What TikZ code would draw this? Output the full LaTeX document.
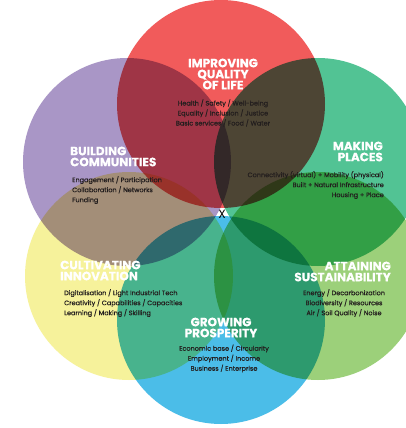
\documentclass[tikz,border=0pt]{standalone}
\usepackage{fontspec}
\setmainfont{Poppins}
\newfontfamily\bodyfont{Poppins}[FakeBold=0.6]
\newfontfamily\ttlfont{Poppins}[BoldFeatures={FakeBold=0.5}]
\definecolor{cred}{RGB}{241,91,91}
\definecolor{cblue}{RGB}{75,189,232}
\definecolor{cpurple}{RGB}{169,150,198}
\definecolor{cgreen}{RGB}{82,195,148}
\definecolor{cyellow}{RGB}{246,242,155}
\definecolor{clgreen}{RGB}{156,208,122}
\definecolor{ctext}{RGB}{35,30,30}
\begin{document}
\begin{tikzpicture}[x=1pt,y=-1pt,
  ttl/.style={font=\ttlfont\bfseries\fontsize{12}{11}\selectfont, text=white, inner sep=0pt},
  body/.style={font=\bodyfont\fontsize{6.5}{10}\selectfont, text=ctext, inner sep=0pt}]
\useasboundingbox (0,0) rectangle (405,428);
\fill[white] (0,0) rectangle (405,428);
\begin{scope}[blend group=multiply]
  \fill[cred]    (221,104) circle[radius=104pt];
  \fill[cpurple] (127,162) circle[radius=104pt];
  \fill[cgreen]  (318,162) circle[radius=104pt];
  \fill[cyellow] (129,276) circle[radius=104pt];
  \fill[clgreen] (318,276) circle[radius=104pt];
  \fill[cblue]   (221,320) circle[radius=104pt];
\end{scope}
% titles
\node[ttl,align=center] (t1) at (223,74) {IMPROVING\\QUALITY\\OF LIFE};
\node[ttl,anchor=west,align=left] (t2) at (70,156.5) {BUILDING\\COMMUNITIES};
\node[ttl,anchor=east,align=right] (t3) at (383,151.5) {MAKING\\PLACES};
\node[ttl,anchor=west,align=left] (t4) at (60,270.5) {CULTIVATING\\INNOVATION};
\node[ttl,anchor=east,align=right] (t5) at (391,271.5) {ATTAINING\\SUSTAINABILITY};
\node[ttl,align=center] (t6) at (221,327.5) {GROWING\\PROSPERITY};
% bodies
\node[body,align=center] (b1) at (223,113) {Health / Safety / Well-being\\Equality / Inclusion / Justice\\Basic services / Food / Water};
\node[body,anchor=west,align=left] (b2) at (72,190) {Engagement / Participation\\Collaboration / Networks\\Funding};
\node[body,anchor=east,align=right] (b3) at (384,185) {Connectivity (virtual) + Mobility (physical)\\Built + Natural Infrastructure\\Housing + Place};
\node[body,anchor=west,align=left] (b4) at (64,303) {Digitalisation / Light Industrial Tech\\Creativity / Capabilities / Capacities\\Learning / Making / Skilling};
\node[body,align=center] (b5) at (344,303) {Energy / Decarbonization\\Biodiversity / Resources\\Air / Soil Quality / Noise};
\node[body,align=center] (b6) at (224,358.5) {Economic base / Circularity\\Employment / Income\\Business / Enterprise};
\node[font=\fontsize{12}{12}\selectfont, text=black, inner sep=0pt] (x) at (222,214) {X};
\end{tikzpicture}
\end{document}
